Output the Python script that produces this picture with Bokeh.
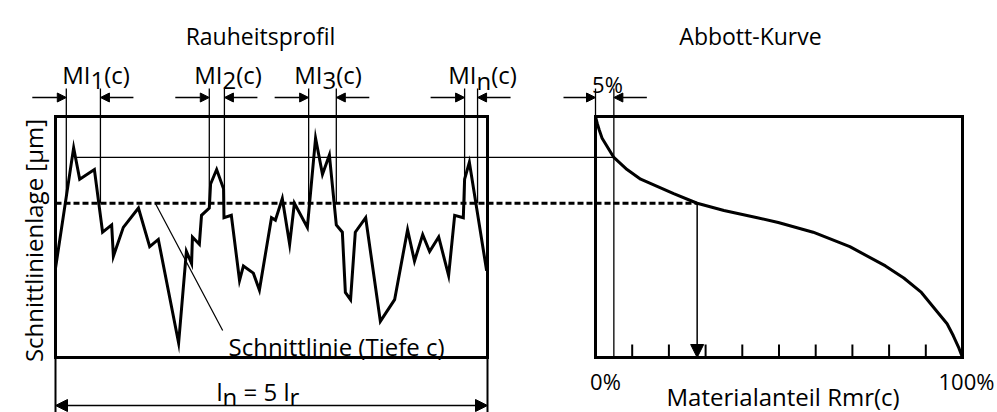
import math
from bokeh.plotting import figure
from bokeh.models import Range1d, Arrow, NormalHead
from bokeh.embed import file_html
from bokeh.resources import INLINE
from bokeh.core.properties import value

# ---------------- data ----------------
# roughness profile: position along ln (% of ln) and height (µm)
profile_pos = [0.0, 4.2, 5.6, 9.0, 10.9, 13.0, 13.4, 15.7, 19.2, 21.8, 23.8, 28.5, 30.3, 31.5,
               31.7, 33.3, 33.8, 35.6, 35.9, 37.3, 38.9, 39.0, 40.7, 42.6, 43.5, 45.8, 47.2, 50.0,
               50.9, 52.5, 54.2, 55.3, 58.3, 60.2, 61.8, 63.4, 65.0, 66.4, 67.1, 68.3, 69.4, 71.8,
               75.2, 78.5, 81.5, 83.1, 85.0, 86.6, 88.7, 91.0, 92.4, 94.4, 94.7, 95.8, 99.8]
profile_height = [3.7, 8.7, 7.4, 7.8, 5.2, 5.5, 4.2, 5.4, 6.2, 4.6, 4.9, 0.6, 4.4, 3.9,
                  5.0, 4.7, 5.9, 6.2, 7.2, 7.8, 7.0, 5.8, 5.9, 3.2, 3.8, 3.5, 2.8, 5.8,
                  5.7, 6.6, 4.7, 6.4, 5.4, 9.1, 7.6, 8.4, 5.5, 5.2, 2.7, 2.4, 5.2, 5.8,
                  1.5, 2.4, 5.3, 4.0, 5.1, 4.4, 5.0, 3.4, 5.9, 5.8, 7.4, 8.1, 3.6]

# Abbott curve: material ratio Rmr (%) vs. height (µm)
abbott_rmr = [0.0, 0.5, 1.0, 1.8, 5.0, 8.6, 12.3, 16.8, 21.3, 27.7, 35.0, 44.1, 49.8,
              59.3, 69.3, 79.0, 84.0, 88.8, 93.1, 95.8, 97.5, 99.0, 100.0]
abbott_height = [10.0, 9.7, 9.45, 9.1, 8.3, 7.8, 7.4, 7.1, 6.8, 6.4, 6.1, 5.8, 5.6,
                 5.2, 4.6, 3.8, 3.3, 2.7, 1.9, 1.4, 0.9, 0.4, 0.0]

cut_level = 6.4          # Schnittlinie (Tiefe c)
level_5pct = 8.3         # height at Rmr = 5 %
rmr_at_cut = 27.7
rmr_5 = 5.0
mi_left = [2.5, 35.6, 58.6, 94.7]    # MI intervals (% of ln)
mi_right = [10.4, 39.1, 65.0, 97.7]
mi_subs = ["1", "2", "3", "n"]
rmr_ticks = [10, 20, 30, 40, 50, 60, 70, 80, 90]
rmr_tick_labels = ["0%", "100%"]
box_h = [0, 10]

# ---------------- layout (pixels) ----------------
W, H = 997, 412
PX0, PX1, PY0, PY1 = 0, W, H, 0
L_X0, L_X1 = 55, 487
R_X0, R_X1 = 595, 962
Y_TOP, Y_BOT = 116, 357
SXL = (L_X1 - L_X0) / 100.0
SXR = (R_X1 - R_X0) / 100.0
SY = (Y_BOT - Y_TOP) / 10.0

def px_prof(v):
    return L_X0 + v * SXL

def px_abb(v):
    return R_X0 + v * SXR

def h_of(py):
    return (Y_BOT - py) / SY

p = figure(width=W, height=H, x_range=Range1d(PX0, PX1), y_range=Range1d(PY0, PY1),
           output_backend="svg", toolbar_location=None, min_border=0,
           x_axis_location=None, y_axis_location=None)
p.grid.visible = False
p.outline_line_color = None
p.background_fill_color = "white"
p.border_fill_color = "white"

p.extra_x_ranges = {
    "prof": Range1d((PX0 - L_X0) / SXL, (PX1 - L_X0) / SXL),
    "abb": Range1d((PX0 - R_X0) / SXR, (PX1 - R_X0) / SXR),
}
p.extra_y_ranges = {"h": Range1d((Y_BOT - PY0) / SY, (Y_BOT - PY1) / SY)}

FONT = value("Open Sans")

def txt(x, y, s, size, align="left", baseline="alphabetic", angle=0.0):
    p.text(x=[x], y=[y], text=[s], text_font=FONT, text_font_size=f"{size}px",
           text_align=align, text_baseline=baseline, text_color="black", angle=angle)

def arrow(x0, y0, x1, y1, size=9, both=False, xr="default", yr="default", lw=1.5):
    head = lambda: NormalHead(size=size, fill_color="black", line_color="black", line_width=1)
    p.add_layout(Arrow(x_start=x0, y_start=y0, x_end=x1, y_end=y1,
                       end=head(), start=head() if both else None,
                       line_width=lw, line_color="black",
                       x_range_name=xr, y_range_name=yr))

# ---------- thin construction lines ----------
top_h = h_of(88)
p.segment(x0=mi_left + mi_right, y0=[cut_level] * 8, x1=mi_left + mi_right, y1=[top_h] * 8,
          x_range_name="prof", y_range_name="h", line_color="black", line_width=1.3)
p.segment(x0=[0, rmr_5], y0=[10, 0], x1=[0, rmr_5], y1=[top_h, top_h],
          x_range_name="abb", y_range_name="h", line_color="black", line_width=1.3)
p.segment(x0=[px_prof(4.9)], y0=[level_5pct], x1=[px_abb(rmr_5)], y1=[level_5pct],
          y_range_name="h", line_color="black", line_width=1.3)
p.segment(x0=[23.1], y0=[cut_level], x1=[38.7], y1=[h_of(330)],
          x_range_name="prof", y_range_name="h", line_color="black", line_width=1.2)
p.segment(x0=[0, 100], y0=[0, 0], x1=[0, 100], y1=[h_of(PY0), h_of(PY0)],
          x_range_name="prof", y_range_name="h", line_color="black", line_width=2)

# ---------- boxes ----------
for rn in ("prof", "abb"):
    p.quad(left=[0], right=[100], bottom=[box_h[0]], top=[box_h[1]],
           x_range_name=rn, y_range_name="h", fill_color=None, line_color="black",
           line_width=3, line_join="miter")
p.segment(x0=rmr_ticks, y0=[0] * len(rmr_ticks), x1=rmr_ticks, y1=[h_of(344)] * len(rmr_ticks),
          x_range_name="abb", y_range_name="h", line_color="black", line_width=2)

# ---------- data lines ----------
p.line(profile_pos, profile_height, x_range_name="prof", y_range_name="h",
       line_color="black", line_width=3, line_join="miter")
p.line(abbott_rmr, abbott_height, x_range_name="abb", y_range_name="h",
       line_color="black", line_width=3, line_join="round")
p.segment(x0=[px_prof(0)], y0=[cut_level], x1=[px_abb(rmr_at_cut)], y1=[cut_level],
          y_range_name="h", line_color="black", line_width=3, line_dash="6 3")

# ---------- arrows ----------
AY = 97
for a, b in zip(mi_left, mi_right):
    xa, xb = px_prof(a), px_prof(b)
    arrow(xa - 34, AY, xa, AY)
    arrow(xb + 33, AY, xb, AY)
arrow(px_abb(0) - 32, AY, px_abb(0), AY)
arrow(px_abb(rmr_5) + 33, AY, px_abb(rmr_5), AY)
arrow(rmr_at_cut, cut_level, rmr_at_cut, 0, size=13, xr="abb", yr="h")
arrow(px_prof(0), 405, px_prof(100), 405, size=12, both=True)

# ---------- texts ----------
txt(260, 35, "Rauheitsprofil", 23, align="center")
txt(750, 35, "Abbott-Kurve", 23, align="center")

label_x = [90, 222, 322, 476]
sub_w = {"1": 0.572, "2": 0.572, "3": 0.572, "n": 0.614}
for lx, s in zip(label_x, mi_subs):
    txt(lx, 74, "MI", 24, align="right")
    txt(lx, 80, s, 24)
    txt(lx + sub_w[s] * 24, 74, "(c)", 24)

txt(607, 83, "5%", 22, align="center")
txt(605, 380, rmr_tick_labels[0], 22, align="center")
txt(966, 380, rmr_tick_labels[1], 22, align="center")
txt(666, 396, "Materialanteil Rmr(c)", 24)
txt(228, 346, "Schnittlinie (Tiefe c)", 24)
txt(33, 240, "Schnittlinienlage [µm]", 24, align="center", angle=math.pi / 2)

# l_n = 5 l_r
bx = 216
txt(bx, 391, "l", 24)
bx += 0.253 * 24
txt(bx, 396, "n", 24)
bx += (0.614 + 0.26) * 24
txt(bx, 391, "= 5 l", 24)
bx += (0.571 + 0.26 + 0.571 + 0.26 + 0.253) * 24
txt(bx, 396, "r", 24)

open("out.html", "w").write(file_html(p, INLINE))
